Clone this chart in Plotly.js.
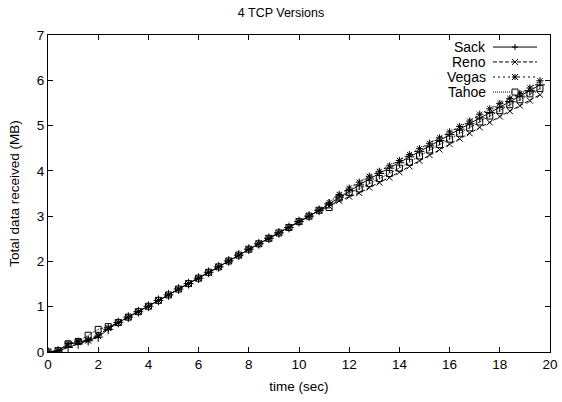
<!DOCTYPE html>
<html>
<head>
<meta charset="utf-8">
<script src="https://cdn.plot.ly/plotly-3.0.1.min.js"></script>
<style>html,body{margin:0;padding:0;background:#fff;}#chart{width:562px;height:402px;}</style>
</head>
<body>
<div id="chart"></div>
<script>
const time = [0, 0.4, 0.8, 1.2, 1.6, 2.0, 2.4, 2.8, 3.2, 3.6, 4.0, 4.4, 4.8, 5.2, 5.6, 6.0, 6.4, 6.8, 7.2, 7.6, 8.0, 8.4, 8.8, 9.2, 9.6, 10.0, 10.4, 10.8, 11.2, 11.6, 12.0, 12.4, 12.8, 13.2, 13.6, 14.0, 14.4, 14.8, 15.2, 15.6, 16.0, 16.4, 16.8, 17.2, 17.6, 18.0, 18.4, 18.8, 19.2, 19.6];

const sack = [0, 0.02, 0.10, 0.18, 0.25, 0.33, 0.50, 0.65, 0.77, 0.89, 1.01, 1.14, 1.26, 1.39, 1.51, 1.63, 1.76, 1.88, 2.01, 2.14, 2.27, 2.39, 2.51, 2.63, 2.75, 2.88, 3.00, 3.13, 3.27, 3.42, 3.56, 3.69, 3.82, 3.94, 4.06, 4.18, 4.31, 4.43, 4.55, 4.67, 4.80, 4.92, 5.04, 5.17, 5.29, 5.41, 5.53, 5.65, 5.77, 5.90];
const reno = [0, 0.03, 0.16, 0.22, 0.25, 0.35, 0.53, 0.65, 0.77, 0.89, 1.01, 1.14, 1.26, 1.39, 1.51, 1.63, 1.76, 1.88, 2.01, 2.14, 2.27, 2.39, 2.51, 2.63, 2.75, 2.88, 3.00, 3.13, 3.22, 3.34, 3.43, 3.51, 3.63, 3.74, 3.85, 3.97, 4.10, 4.22, 4.35, 4.47, 4.59, 4.71, 4.83, 4.96, 5.07, 5.20, 5.32, 5.44, 5.55, 5.68];
const vegas = [0, 0.03, 0.19, 0.24, 0.27, 0.37, 0.53, 0.65, 0.77, 0.89, 1.01, 1.14, 1.26, 1.39, 1.51, 1.63, 1.76, 1.88, 2.01, 2.14, 2.27, 2.39, 2.51, 2.63, 2.75, 2.88, 3.00, 3.13, 3.30, 3.48, 3.62, 3.75, 3.88, 3.99, 4.11, 4.23, 4.36, 4.49, 4.61, 4.73, 4.86, 4.98, 5.10, 5.25, 5.37, 5.49, 5.60, 5.71, 5.83, 5.99];
const tahoe = [0, 0.03, 0.18, 0.23, 0.37, 0.50, 0.56, 0.65, 0.77, 0.89, 1.01, 1.14, 1.26, 1.39, 1.51, 1.63, 1.76, 1.88, 2.01, 2.14, 2.27, 2.39, 2.51, 2.63, 2.75, 2.88, 3.00, 3.13, 3.19, 3.40, 3.52, 3.60, 3.72, 3.83, 3.94, 4.06, 4.19, 4.33, 4.46, 4.58, 4.70, 4.83, 4.95, 5.08, 5.21, 5.33, 5.46, 5.57, 5.70, 5.82];

const seriesNames = ["Sack", "Reno", "Vegas", "Tahoe"];
const xTicks = [0, 2, 4, 6, 8, 10, 12, 14, 16, 18, 20];
const yTicks = [0, 1, 2, 3, 4, 5, 6, 7];

const FONT = "Liberation Sans, Arial, Helvetica, sans-serif";
const styles = [
  {dash: "solid", symbol: "cross-thin-open", size: 7, key: "plus"},
  {dash: "4px,2px", symbol: "x-thin-open", size: 6, key: "x"},
  {dash: "2px,3px", symbol: "asterisk-open", size: 6, key: "star"},
  {dash: "1px,1px", symbol: "square-open", size: 6, key: "square"}
];
const ys = [sack, reno, vegas, tahoe];

const traces = ys.map((y, i) => ({
  x: time,
  y: y,
  name: seriesNames[i],
  type: "scatter",
  mode: "lines+markers",
  showlegend: false,
  line: {color: "#000", width: 1, dash: styles[i].dash},
  marker: {symbol: styles[i].symbol, size: styles[i].size, color: "#000", line: {color: "#000", width: 1}}
}));

// Gnuplot-style key (text on the left, sample on the right), built in paper units
const PW = 502, PH = 317; // plot area size in px
const px = v => v / PW, py = v => v / PH;
const keyTextX = px(440), keyLine0 = px(445), keyLine1 = px(489), keyMark = px(467);
const keyRows = [0.962, 0.915, 0.8675, 0.820];
const annotations = [];
const shapes = [];
const black = {color: "#000", width: 1};
seriesNames.forEach((nm, i) => {
  const yy = keyRows[i];
  annotations.push({xref: "paper", yref: "paper", x: keyTextX, y: yy, xanchor: "right", yanchor: "middle",
    text: nm, showarrow: false, font: {family: FONT, size: 14, color: "#000"}});
  shapes.push({type: "line", xref: "paper", yref: "paper", x0: keyLine0, x1: keyLine1, y0: yy, y1: yy,
    line: {color: "#000", width: 1, dash: styles[i].dash}});
  const h = 3, dx = px(h), dy = py(h);
  const k = styles[i].key;
  if (k === "plus" || k === "star") {
    shapes.push({type: "line", xref: "paper", yref: "paper", x0: keyMark - dx, x1: keyMark + dx, y0: yy, y1: yy, line: black});
    shapes.push({type: "line", xref: "paper", yref: "paper", x0: keyMark, x1: keyMark, y0: yy - dy, y1: yy + dy, line: black});
  }
  if (k === "x" || k === "star") {
    shapes.push({type: "line", xref: "paper", yref: "paper", x0: keyMark - dx, x1: keyMark + dx, y0: yy - dy, y1: yy + dy, line: black});
    shapes.push({type: "line", xref: "paper", yref: "paper", x0: keyMark - dx, x1: keyMark + dx, y0: yy + dy, y1: yy - dy, line: black});
  }
  if (k === "square") {
    shapes.push({type: "rect", xref: "paper", yref: "paper", x0: keyMark - dx, x1: keyMark + dx, y0: yy - dy, y1: yy + dy,
      line: black, fillcolor: "#fff"});
  }
});

const axisCommon = {
  showline: true, linecolor: "#000", linewidth: 1, mirror: "ticks",
  ticks: "inside", ticklen: 5, tickcolor: "#000", tickwidth: 1,
  showgrid: false, zeroline: false,
  tickfont: {family: FONT, size: 13.5, color: "#000"}
};

const layout = {
  width: 562, height: 402,
  margin: {l: 48, r: 12, t: 35, b: 50},
  paper_bgcolor: "#fff", plot_bgcolor: "#fff",
  font: {family: FONT, size: 13, color: "#000"},
  title: {text: "4 TCP Versions", font: {family: FONT, size: 12.5, color: "#000"}, x: 0.5, xanchor: "center", y: 0.968, yanchor: "middle"},
  xaxis: Object.assign({}, axisCommon, {range: [0, 20], tickvals: xTicks, ticktext: xTicks.map(String),
    title: {text: "time (sec)", font: {family: FONT, size: 13.5, color: "#000"}, standoff: 10}}),
  yaxis: Object.assign({}, axisCommon, {range: [0, 7], tickvals: yTicks, ticktext: yTicks.map(String),
    title: {text: "Total data received (MB)", font: {family: FONT, size: 13.5, color: "#000"}, standoff: 14}}),
  showlegend: false,
  annotations: annotations,
  shapes: shapes
};

Plotly.newPlot("chart", traces, layout, {displayModeBar: false, staticPlot: true});
</script>
</body>
</html>
